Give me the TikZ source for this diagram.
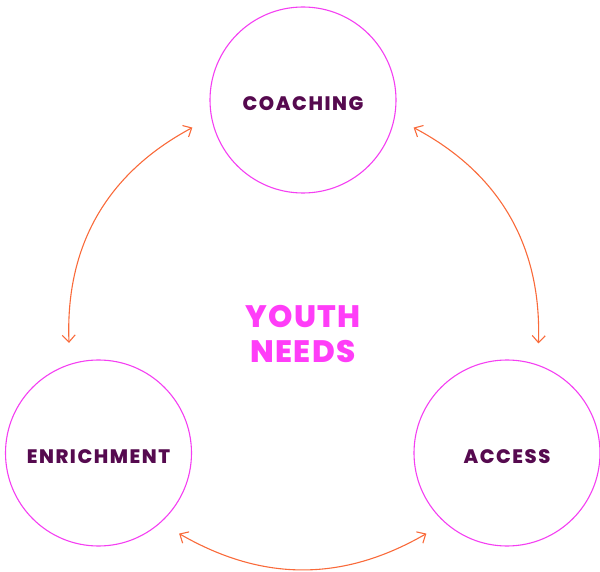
\documentclass[tikz,border=0pt]{standalone}
\usepackage{fontspec}
\usepackage{tikz}
\usepackage{xcolor}
\usetikzlibrary{shapes, positioning, arrows.meta}
\setmainfont{Poppins}
\newfontfamily\labelfont[LetterSpace=8]{Poppins ExtraBold}
\newfontfamily\titlefont[LetterSpace=4]{Poppins ExtraBold}
\definecolor{ring}{HTML}{F43FF2}
\definecolor{plum}{HTML}{560A4F}
\definecolor{flame}{HTML}{F96A3A}
\definecolor{pink}{HTML}{FF3DF8}

\begin{document}
\begin{tikzpicture}[x=1pt, y=1pt,
        need/.style={circle, draw=ring, line width=1.1pt, minimum size=186pt, inner sep=0pt, outer sep=21pt,
            text height=21pt, text depth=0pt, text=plum, font=\labelfont\fontsize{19.5}{21}\selectfont},
        link/.style={flame, line width=1.1pt, {Straight Barb[length=7pt, width=13pt]}-{Straight Barb[length=7pt, width=13pt]}}]
        \useasboundingbox (0, 0) rectangle (600, 571);
        
        \node[need] (c) at (303, 471) {COACHING};
        \node[need] (e) at (98.5, 118) {ENRICHMENT};
        \node[need] (a) at (507, 118) {ACCESS};
        
        \node[text=pink, align=center, font=\titlefont\fontsize{31}{35}\selectfont] (y) at (303, 237) {YOUTH\\NEEDS};
        
        \draw[link] (c.194) to[bend right=32] (e.105.5);
        \draw[link] (c.-14) to[bend left=32] (a.74.5);
        \draw[link] (e.-45) to[bend right=30] (a.225);
    \end{tikzpicture}
\end{document}
